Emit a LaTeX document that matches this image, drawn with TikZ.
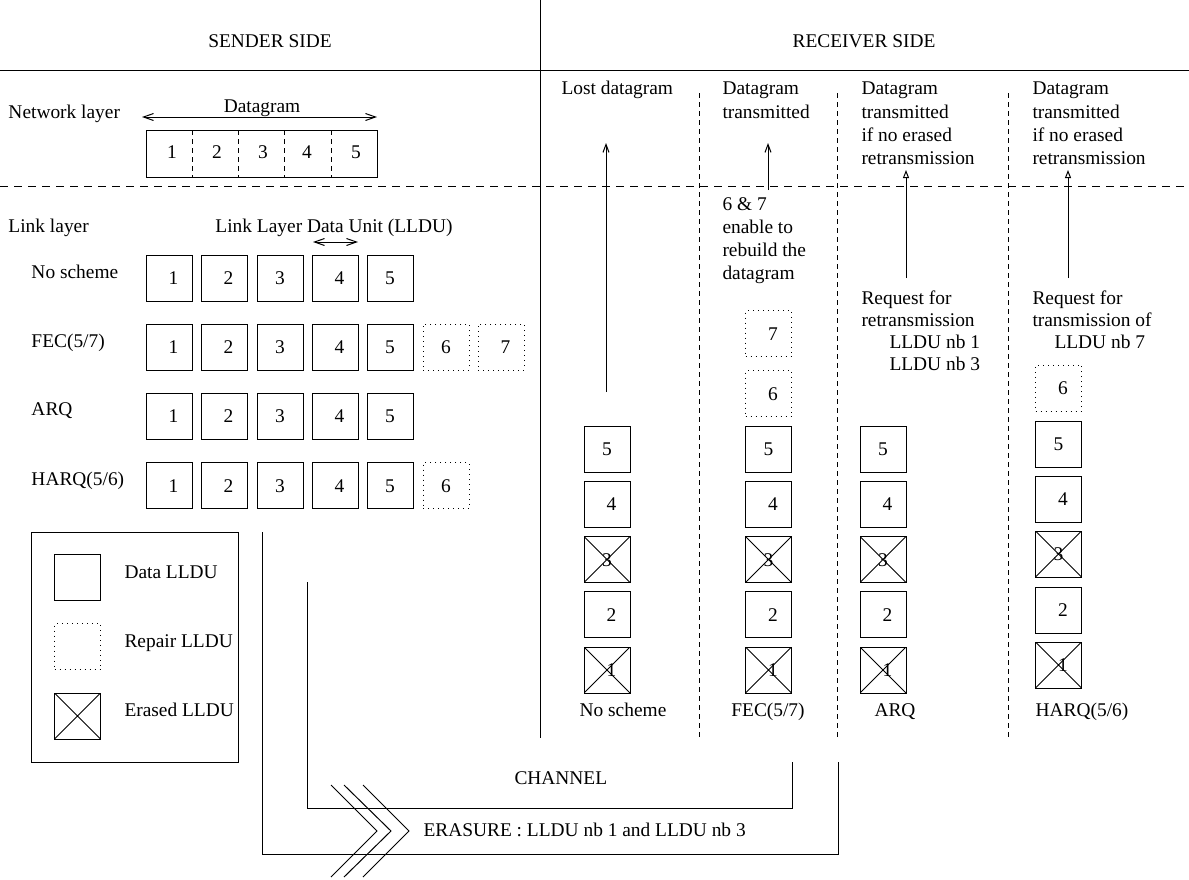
\documentclass[tikz,border=0pt]{standalone}
\usepackage{fontspec}
\setmainfont{Liberation Serif}
\usetikzlibrary{arrows.meta}
\newcommand\shd[1]{\hspace*{4.5pt}#1}
\begin{document}
\begin{tikzpicture}[x=0.5pt,y=-0.5pt,line width=0.5pt,
 every node/.style={font=\fontsize{9.7}{11.65}\selectfont,inner sep=0pt},
 txt/.style={text height=0.68em,text depth=0.2em},
 mtxt/.style={align=left,anchor=north west},
 databox/.style={draw,minimum width=23pt,minimum height=23pt,text height=0.68em,text depth=0pt},
 repairbox/.style={databox,dotted},
 erasedbox/.style={databox,path picture={\draw[line width=0.5pt,solid] (path picture bounding box.north west)--(path picture bounding box.south east) (path picture bounding box.south west)--(path picture bounding box.north east);}},
 sepline/.style={dash pattern=on 2.5pt off 2pt},
 hsepline/.style={dash pattern=on 4pt off 3pt},
 barb/.style={-{Straight Barb[length=4pt,width=3pt]}},
 dbarb/.style={{Straight Barb[length=5pt,width=3.5pt]}-{Straight Barb[length=5pt,width=3.5pt]}},
 tri/.style={-{Triangle[open,length=4pt,width=3pt]}},
]
\useasboundingbox (0,0) rectangle (1189,879);

% frame lines
\draw (0,70) -- (1189,70);
\draw[hsepline] (0,186) -- (1189,186);
\draw (540,0) -- (540,738);
\draw[sepline] (699,93) -- (699,738);
\draw[sepline] (837,93) -- (837,738);
\draw[sepline] (1008,93) -- (1008,738);

% titles
\node[txt] (sender) at (270,43) {SENDER SIDE};
\node[txt] (receiver) at (864,43) {RECEIVER SIDE};

% network layer
\node[txt,anchor=west] (netl) at (8,114) {Network layer};
\node[txt] (dglab) at (262,108) {Datagram};
\coordinate (dga) at (142,117);
\coordinate (dgb) at (377,117);
\draw[dbarb] (dga) -- (dgb);
\node[draw,minimum width=115.5pt,minimum height=23.5pt] (dg) at (261.5,153.5) {};
\foreach \x in {192,238,284,331} \draw[sepline] (\x,130) -- (\x,177);
\foreach \n/\x in {1/172,2/217,3/263,4/307,5/356} \node[txt] (dgn\n) at (\x,154) {\n};

% link layer
\node[txt,anchor=west] (linkl) at (8,228) {Link layer};
\node[txt] (lldulab) at (334,228) {Link Layer Data Unit (LLDU)};
\coordinate (lla) at (313,242);
\coordinate (llb) at (358,242);
\draw[dbarb] (lla) -- (llb);

\node[txt,anchor=west] (rns) at (31,274) {No scheme};
\node[txt,anchor=west] (rfec) at (31,343) {FEC(5/7)};
\node[txt,anchor=west] (rarq) at (31,411) {ARQ};
\node[txt,anchor=west] (rharq) at (31,481) {HARQ(5/6)};

\foreach \i/\x/\t in {1/169/\shd{1},2/224/\shd{2},3/280/3,4/335/\shd{4},5/390/5} {
  \node[databox] (sns\i) at (\x,278) {\t};
  \node[databox] (sfec\i) at (\x,347) {\t};
  \node[databox] (sarq\i) at (\x,416) {\t};
  \node[databox] (sharq\i) at (\x,485.5) {\t};
}
\node[repairbox] (sfec6) at (446,347) {6};
\node[repairbox] (sfec7) at (501,347) {\shd{7}};
\node[repairbox] (sharq6) at (446,485.5) {6};

% legend
\node[draw,minimum width=103.5pt,minimum height=115pt] (legend) at (134.5,647) {};
\node[databox] (lgd) at (77.5,577.5) {};
\node[repairbox] (lgr) at (77.5,646.5) {};
\node[erasedbox] (lge) at (77.5,716) {};
\node[txt,anchor=west] (lgdt) at (124,574) {Data LLDU};
\node[txt,anchor=west] (lgrt) at (124,643) {Repair LLDU};
\node[txt,anchor=west] (lget) at (124,712) {Erased LLDU};

% receiver columns
\foreach \c/\x in {a/607,b/768.5,c/883} {
  \node[databox] (r\c5) at (\x,449) {5};
  \node[databox] (r\c4) at (\x,504) {\shd{4}};
  \node[erasedbox] (r\c3) at (\x,559.5) {3};
  \node[databox] (r\c2) at (\x,614.5) {\shd{2}};
  \node[erasedbox] (r\c1) at (\x,670) {\shd{1}};
}
\node[repairbox] (rb6) at (768.5,393.5) {\shd{6}};
\node[repairbox] (rb7) at (768.5,333.5) {\shd{7}};
\node[repairbox] (rd6) at (1058.5,388) {\shd{6}};
\node[databox] (rd5) at (1058.5,444) {5};
\node[databox] (rd4) at (1058.5,499) {\shd{4}};
\node[erasedbox] (rd3) at (1058.5,554) {3};
\node[databox] (rd2) at (1058.5,610) {\shd{2}};
\node[erasedbox] (rd1) at (1058.5,665) {\shd{1}};

\node[txt] (lns) at (623,712) {No scheme};
\node[txt] (lfec) at (768,712) {FEC(5/7)};
\node[txt] (larq) at (895,712) {ARQ};
\node[txt] (lharq) at (1082,712) {HARQ(5/6)};

% receiver texts
\node[txt,anchor=west] (lost) at (561,90) {Lost datagram};
\node[mtxt] (dt2) at (722,81.6) {Datagram\\transmitted};
\node[mtxt] (dt3) at (861,81.6) {Datagram\\transmitted\\if no erased\\retransmission};
\node[mtxt] (dt4) at (1032,81.6) {Datagram\\transmitted\\if no erased\\retransmission};
\node[mtxt] (rebuild) at (722,196.6) {6 \& 7\\enable to\\rebuild the\\datagram};
\node[mtxt,font=\fontsize{9.7}{11}\selectfont] (req3) at (861,290.6) {Request for\\retransmission\\\hspace*{14pt}LLDU nb 1\\\hspace*{14pt}LLDU nb 3};
\node[mtxt,font=\fontsize{9.7}{11}\selectfont] (req4) at (1032,290.6) {Request for\\transmission of\\\hspace*{11pt}LLDU nb 7};

% arrows
\coordinate (a1s) at (606,392);
\coordinate (a1e) at (606,143);
\draw[barb] (a1s) -- (a1e);
\coordinate (a2s) at (768,190);
\coordinate (a2e) at (768,143);
\draw[barb] (a2s) -- (a2e);
\coordinate (a3s) at (906,278);
\coordinate (a3e) at (906,170);
\draw[tri] (a3s) -- (a3e);
\coordinate (a4s) at (1068,278);
\coordinate (a4e) at (1068,170);
\draw[tri] (a4s) -- (a4e);

% channel
\draw (262,532) -- (262,854) -- (838,854) -- (838,762);
\draw (307,582) -- (307,808) -- (792,808) -- (792,762);
\draw (331,785) -- (377,831) -- (331,877);
\draw (344,785) -- (391,831) -- (344,877);
\draw (363,785) -- (409,831) -- (363,877);
\node[txt,anchor=west] (chan) at (514,780) {CHANNEL};
\node[txt,anchor=west] (eras) at (423,832) {ERASURE : LLDU nb 1 and LLDU nb 3};
\end{tikzpicture}
\end{document}
